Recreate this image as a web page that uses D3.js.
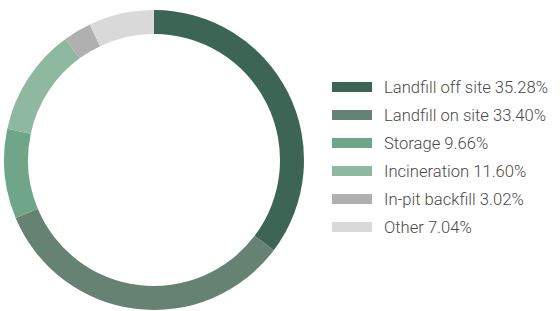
<!DOCTYPE html>
<html>
<head>
<meta charset="utf-8">
<script src="https://cdn.jsdelivr.net/npm/d3@7"></script>
<style>
  body { margin: 0; background: #fff; }
  .legend text { font-family: Roboto, "Noto Sans", sans-serif; font-size: 16.6px; font-weight: 300; fill: #4a4a4a; }
</style>
</head>
<body>
<div id="chart"></div>
<script>
// Data
var categories = ["Landfill off site", "Landfill on site", "Storage", "Incineration", "In-pit backfill", "Other"];
var shares = [35.28, 33.40, 9.66, 11.60, 3.02, 7.04];
var colors = ["#3d6556", "#658273", "#6fa588", "#8fb8a1", "#b0b0b0", "#d9d9d9"];

var svgWidth = 560;
var svgHeight = 311;

var svg = d3.select("#chart")
  .append("svg")
  .attr("width", svgWidth)
  .attr("height", svgHeight);

var data = categories.map(function(c, i) {
  return { name: c, value: shares[i], color: colors[i] };
});

// Donut
var outerR = 150;
var innerR = 126;

var pie = d3.pie()
  .sort(null)
  .value(d => d.value);

var arc = d3.arc()
  .innerRadius(innerR)
  .outerRadius(outerR);

var donut = svg.append("g")
  .attr("transform", "translate(154, 160)");

donut.selectAll("path")
  .data(pie(data))
  .enter()
  .append("path")
  .attr("d", arc)
  .attr("fill", d => d.data.color);

// Legend
var rowScale = d3.scaleBand()
  .domain(categories)
  .range([73, 241]);

var legend = svg.append("g")
  .attr("class", "legend");

var rows = legend.selectAll("g")
  .data(data)
  .enter()
  .append("g")
  .attr("transform", d => `translate(332, ${rowScale(d.name) + rowScale.bandwidth() / 2})`);

rows.append("rect")
  .attr("x", 0)
  .attr("y", -5)
  .attr("width", 40)
  .attr("height", 10)
  .attr("fill", d => d.color);

rows.append("text")
  .attr("x", 52)
  .attr("y", 0)
  .attr("dy", "0.35em")
  .text(d => d.name + " " + d.value.toFixed(2) + "%");
</script>
</body>
</html>
